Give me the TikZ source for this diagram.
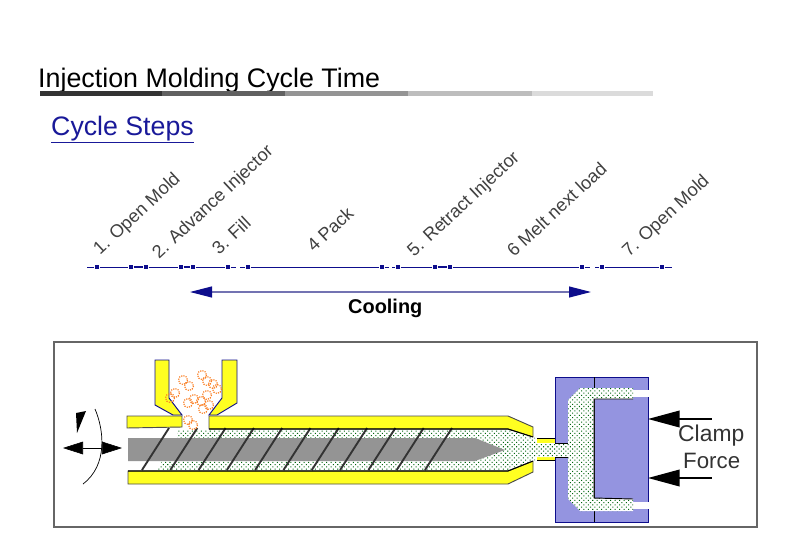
\documentclass[tikz,border=0pt]{standalone}
\usepackage{fontspec}
\setmainfont{Liberation Sans}
\usetikzlibrary{positioning}
\usetikzlibrary{arrows.meta,patterns.meta}
\definecolor{navy}{rgb}{0.05,0.05,0.55}
\definecolor{coolline}{rgb}{0.45,0.45,0.70}
\definecolor{linkblue}{rgb}{0.10,0.10,0.60}
\definecolor{barrel}{rgb}{1.00,1.00,0.13}
\definecolor{mold}{rgb}{0.58,0.58,0.88}
\definecolor{screw}{rgb}{0.58,0.58,0.58}
\definecolor{meltdot}{rgb}{0.00,0.40,0.05}
\definecolor{pellet}{rgb}{0.98,0.50,0.15}
\begin{document}
\begin{tikzpicture}
[x=0.03cm,y=-0.03cm,
tick/.style={rectangle,fill=navy,inner sep=0pt,minimum width=1.4mm,minimum height=1mm},
stepline/.style={navy,line width=0.8pt},
steplabel/.style={anchor=base west,rotate=43,font=\fontsize{15.5}{15.5}\selectfont,text=black!75,inner sep=0pt},
bigtext/.style={anchor=base west,inner sep=0pt},
wall/.style={fill=barrel,draw=navy,line width=0.8pt},
melt/.style={preaction={fill=white},pattern={Dots[radius=0.62pt,distance=2.7pt,angle=45]},pattern color=meltdot},
flight/.style={black!80,line width=1.6pt},
force/.style={black,line width=1.4pt,{Triangle[length=0.95cm,width=0.5cm]}-}]
\useasboundingbox (0,0) rectangle (800,534);

\node[bigtext,font=\fontsize{22.9}{22.9}\selectfont] (title) at (38,88) {Injection Molding Cycle Time};
\foreach \xa/\xb/\shade in {40/162/80,162/285/62,285/408/42,408/532/26,532/653/14}
  \fill[black!\shade] (\xa,91) rectangle (\xb,96);
\node[bigtext,font=\fontsize{22.8}{22.8}\selectfont,text=linkblue] (steps) at (51,135) {\underline{Cycle Steps}};

\node[steplabel] (s1) at (100,256) {1. Open Mold};
\node[steplabel] (s2) at (159,260) {2. Advance Injector};
\node[steplabel] (s3) at (219,256) {3. Fill};
\node[steplabel] (s4) at (314,253) {4 Pack};
\node[steplabel] (s5) at (414,258) {5. Retract Injector};
\node[steplabel] (s6) at (514,258) {6 Melt next load};
\node[steplabel] (s7) at (629,258) {7. Open Mold};

\coordinate (t0) at (87,267);
\node[tick] (t1) at (97,267) {};
\node[tick] (t2) at (131,267) {};
\node[tick] (t3) at (146,267) {};
\node[tick] (t4) at (181,267) {};
\node[tick] (t5) at (193,267) {};
\node[tick] (t6) at (228,267) {};
\node[tick] (t7) at (248,267) {};
\node[tick] (t8) at (382,267) {};
\node[tick] (t9) at (398,267) {};
\node[tick] (t10) at (435,267) {};
\node[tick] (t11) at (450,267) {};
\node[tick] (t12) at (582,267) {};
\node[tick] (t13) at (602,267) {};
\node[tick] (t14) at (662,267) {};
\coordinate (t15) at (672,267);
\coordinate (g1) at (236,267);
\coordinate (g2) at (240,267);
\coordinate (g3) at (389,267);
\coordinate (g4) at (392,267);
\coordinate (g5) at (590,267);
\coordinate (g6) at (595,267);
\draw[stepline] (t0) -- (t1) -- (t2);
\draw[navy,line width=1.2pt] (t2) -- (t3);
\draw[stepline] (t3) -- (t4);
\draw[navy,line width=1.2pt] (t4) -- (t5);
\draw[stepline] (t5) -- (t6) -- (g1);
\draw[stepline] (g2) -- (t7) -- (t8) -- (g3);
\draw[stepline] (g4) -- (t9) -- (t10);
\draw[navy,line width=1.2pt] (t10) -- (t11);
\draw[stepline] (t11) -- (t12) -- (g5);
\draw[stepline] (g6) -- (t13) -- (t14) -- (t15);

\coordinate (c1) at (190,292);
\coordinate (c2) at (591,292);
\draw[coolline,line width=0.9pt,{Triangle[length=0.66cm,width=0.33cm,fill=navy,color=navy]}-{Triangle[length=0.66cm,width=0.33cm,fill=navy,color=navy]}] (c1) -- (c2);
\node[bigtext,font=\bfseries\fontsize{17}{17}\selectfont] (cooling) at (348,313) {Cooling};

\draw[black!60,line width=1pt] (54,342) rectangle (757,527);

% barrel and hopper
\draw[wall] (155,360) -- (169,360) -- (169,398) -- (182,415) -- (173,415) -- (155,405) -- cycle;
\draw[wall] (222,360) -- (237,360) -- (237,403) -- (217,415) -- (209,415) -- (222,398) -- cycle;
\draw[wall,draw=black!70] (127,416) -- (182,416) -- (182,427) -- (127,428) -- cycle;
\draw[wall,draw=black!70] (209,416) -- (508,416) -- (533,427) -- (533,437) -- (508,429) -- (209,429) -- cycle;
\draw[wall,draw=black!70] (128,471) -- (508,471) -- (533,461) -- (533,472) -- (508,484) -- (128,484) -- cycle;
\fill[barrel] (537,438) rectangle (555,443);
\fill[barrel] (537,457) rectangle (555,461);

% melt in front of the screw
\fill[melt] (177,430) -- (508,430) -- (535,438) -- (535,460) -- (508,470) -- (157,470) -- (162,461) -- (128,461) -- (128,438) -- (177,438) -- cycle;
\fill[screw] (128,438) -- (475,438) -- (505,450) -- (475,461) -- (128,461) -- cycle;
\foreach \i in {0,...,10}
  \draw[flight] ({142+28.3*\i},470) -- ({169+28.3*\i},428);
\draw[black,line width=0.9pt] (209,429) -- (508,429) -- (533,437);
\draw[black,line width=0.9pt] (128,471) -- (508,471) -- (533,461);

\foreach \px/\py in {183/380,189/386,202/375,207/381,175/393,170/398,188/403,194/399,213/384,217/389,207/395,201/401,203/409,209/405,188/420,193/425}
  \draw[pellet,densely dotted,line width=1pt] (\px,\py) circle (4.5);

% rotation and stroke of the screw
\coordinate (m1) at (63,448);
\coordinate (m2) at (122,448);
\draw[black,line width=0.5pt,{Triangle[length=0.6cm,width=0.38cm]}-{Triangle[length=0.6cm,width=0.38cm]}] (m1) -- (m2);
\draw[black,line width=0.6pt] (95,409) .. controls (104,430) and (108,465) .. (83,484);
\fill[black] (76,413) -- (86,411) -- (77,433) -- cycle;

% mold with cavity
\fill[mold] (555,377) rectangle (648,522);
\draw[navy,line width=0.6pt] (555,377) rectangle (648,522);
\draw[black,line width=0.7pt] (594,377) -- (594,522);
\fill[white] (633,390) rectangle (649,397);
\fill[white] (633,502) rectangle (649,509);
\fill[melt] (533,443) -- (568,443) -- (568,400) -- (580,388) -- (633,388) -- (633,399) -- (594,399) -- (594,498) -- (633,499) -- (633,511) -- (580,511) -- (568,499) -- (568,457) -- (533,457) -- cycle;
\draw[black,line width=0.8pt] (633,399) -- (594,399) -- (594,498) -- (633,499);
\draw[black,line width=0.6pt] (537,438) -- (555,438) (537,460) -- (555,460) (555,443) -- (568,443) (555,457) -- (568,457);

\coordinate (f1) at (648,419);
\coordinate (f2) at (712,419);
\coordinate (f3) at (648,478);
\coordinate (f4) at (712,478);
\draw[force] (f1) -- (f2);
\draw[force] (f3) -- (f4);
\node[bigtext,font=\fontsize{19.5}{19.5}\selectfont,text=black!80] (clamp) at (678,441) {Clamp};
\node[bigtext,font=\fontsize{19}{19}\selectfont,text=black!80] (forcetxt) at (683,468) {Force};
\end{tikzpicture}
\end{document}
